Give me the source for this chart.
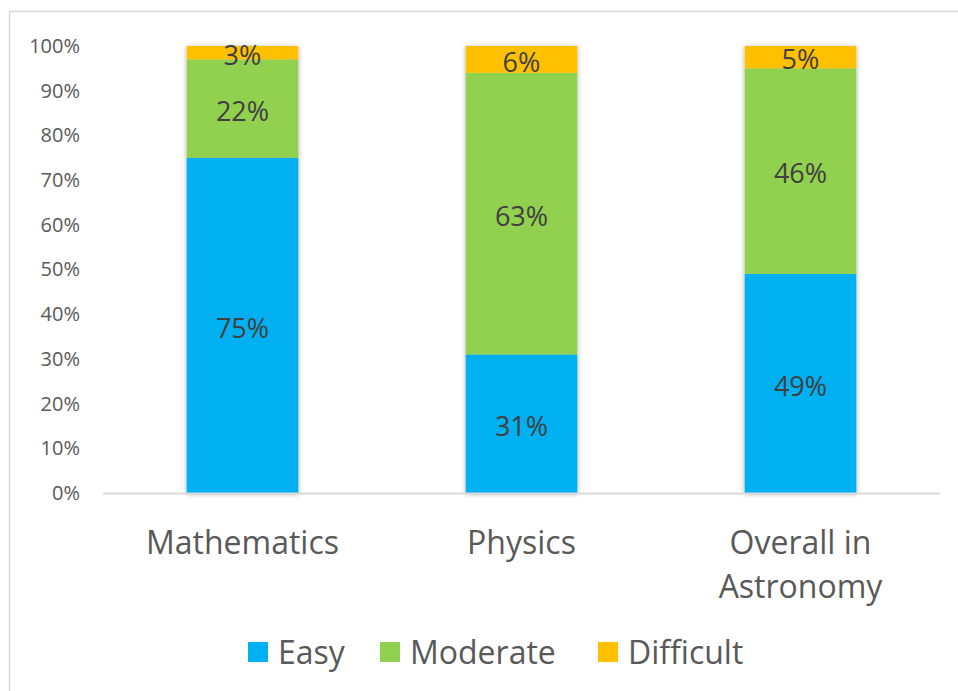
<!DOCTYPE html>
<html>
<head>
<meta charset="utf-8">
<script src="https://cdn.jsdelivr.net/npm/d3@7"></script>
<style>
  body { margin: 0; background: #fff; }
  svg { display: block; font-family: "Open Sans", sans-serif; }
</style>
</head>
<body>
<div id="chart"></div>
<script>
const categories = ["Mathematics", "Physics", "Overall in Astronomy"];
const categoryLines = [["Mathematics"], ["Physics"], ["Overall in", "Astronomy"]];
const seriesNames = ["Easy", "Moderate", "Difficult"];
const easyValues = [75, 31, 49];
const moderateValues = [22, 63, 46];
const difficultValues = [3, 6, 5];
const yTicks = [0, 10, 20, 30, 40, 50, 60, 70, 80, 90, 100];

const colors = ["#00B0F0", "#92D050", "#FFC000"];

const width = 958;
const height = 691;
const margin = { left: 103, right: 18, top: 46, bottom: 198 };

const rows = categories.map((c, i) => ({
  category: c,
  Easy: easyValues[i],
  Moderate: moderateValues[i],
  Difficult: difficultValues[i],
}));

const svg = d3
  .select("#chart")
  .append("svg")
  .attr("width", width)
  .attr("height", height);

// outer frame
svg
  .append("rect")
  .attr("x", 9.5)
  .attr("y", 11.5)
  .attr("width", width + 10)
  .attr("height", height + 10)
  .attr("fill", "none")
  .attr("stroke", "#d9d9d9")
  .attr("stroke-width", 1.5);

const defs = svg.append("defs");
const shadow = defs
  .append("filter")
  .attr("id", "barShadow")
  .attr("x", "-20%")
  .attr("y", "-5%")
  .attr("width", "140%")
  .attr("height", "110%");
shadow
  .append("feDropShadow")
  .attr("dx", 0)
  .attr("dy", 1)
  .attr("stdDeviation", 2.5)
  .attr("flood-color", "#000")
  .attr("flood-opacity", 0.35);

const x = d3
  .scaleBand()
  .domain(categories)
  .range([margin.left, width - margin.right])
  .paddingInner(0.6)
  .paddingOuter(0.3);

const y = d3
  .scaleLinear()
  .domain([0, 100])
  .range([height - margin.bottom, margin.top]);

// y axis labels
const yAxis = d3
  .axisLeft(y)
  .tickValues(yTicks)
  .tickFormat((d) => d + "%")
  .tickSize(0)
  .tickPadding(0);

svg
  .append("g")
  .attr("transform", `translate(80,0)`)
  .call(yAxis)
  .call((g) => g.select(".domain").remove())
  .call((g) =>
    g
      .selectAll("text")
      .attr("fill", "#595959")
      .attr("font-size", 20)
      .attr("font-family", "'Open Sans', sans-serif")
  );

const stack = d3.stack().keys(seriesNames);
const stacked = stack(rows);

const bars = svg.append("g").attr("filter", "url(#barShadow)");
bars
  .selectAll("g")
  .data(stacked)
  .join("g")
  .attr("fill", (d, i) => colors[i])
  .selectAll("rect")
  .data((d) => d)
  .join("rect")
  .attr("x", (d) => x(d.data.category))
  .attr("y", (d) => y(d[1]))
  .attr("width", x.bandwidth())
  .attr("height", (d) => y(d[0]) - y(d[1]));

// baseline
svg
  .append("line")
  .attr("x1", margin.left)
  .attr("x2", width - margin.right)
  .attr("y1", y(0) + 0.5)
  .attr("y2", y(0) + 0.5)
  .attr("stroke", "#d9d9d9")
  .attr("stroke-width", 2);

// data labels
const labels = svg.append("g");
stacked.forEach((layer) => {
  labels
    .selectAll(null)
    .data(layer)
    .join("text")
    .attr("x", (d) => x(d.data.category) + x.bandwidth() / 2)
    .attr("y", (d) => (y(d[0]) + y(d[1])) / 2 + 2)
    .attr("dy", "0.38em")
    .attr("text-anchor", "middle")
    .attr("font-size", 27)
    .attr("fill", "#404040")
    .text((d) => d[1] - d[0] + "%");
});

// category labels
const catG = svg.append("g");
categories.forEach((c, i) => {
  const t = catG
    .append("text")
    .attr("x", x(c) + x.bandwidth() / 2)
    .attr("y", 554)
    .attr("text-anchor", "middle")
    .attr("font-size", 32)
    .attr("fill", "#595959");
  categoryLines[i].forEach((line, j) => {
    t.append("tspan")
      .attr("x", x(c) + x.bandwidth() / 2)
      .attr("dy", j === 0 ? 0 : 44)
      .text(line);
  });
});

// legend
const legendX = [248, 380, 598];
const legend = svg.append("g");
seriesNames.forEach((name, i) => {
  const g = legend.append("g").attr("transform", `translate(${legendX[i]},642)`);
  g.append("rect").attr("width", 20).attr("height", 20).attr("fill", colors[i]);
  g.append("text")
    .attr("x", 30)
    .attr("y", 22)
    .attr("font-size", 32)
    .attr("fill", "#595959")
    .text(name);
});
</script>
</body>
</html>
